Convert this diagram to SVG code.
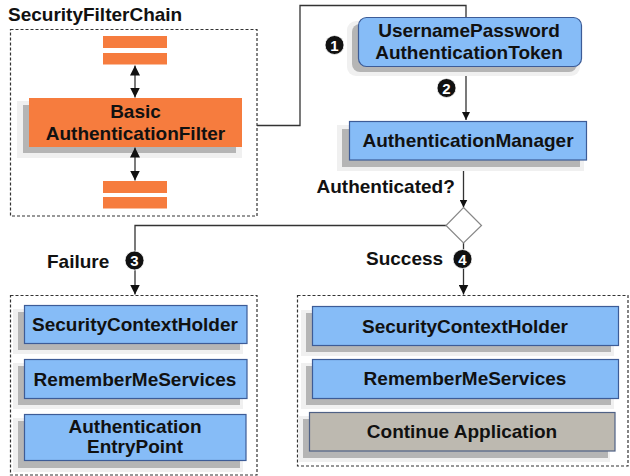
<svg xmlns="http://www.w3.org/2000/svg" width="630" height="476" viewBox="0 0 630 476">
<defs>
<style>
text{font-family:"Liberation Sans",Arial,sans-serif;font-weight:bold;fill:#111;}
.t{font-size:19px;text-anchor:middle;}
.lbl{font-size:19px;}
.dash{fill:none;stroke:#333;stroke-width:1.2;stroke-dasharray:3,2;}
.halo{fill:#f0f0f0;}
.shd{fill:#b5b5b5;}
.blue{fill:#86bcf7;stroke:#3d5c97;stroke-width:1.2;}
.gray{fill:#bdb9b0;stroke:#4f6185;stroke-width:1.2;}
.orange{fill:#f67c3e;}
.line{fill:none;stroke:#333;stroke-width:1.3;}
.badge circle{fill:#111;stroke:#fff;stroke-width:0.8;}
.badge text{font-size:15px;fill:#fff;text-anchor:middle;}
</style>
<marker id="ah" viewBox="0 0 10 10" refX="10" refY="5" markerWidth="8" markerHeight="8" markerUnits="userSpaceOnUse" orient="auto-start-reverse">
<path d="M0,0 L10,5 L0,10 z" fill="#111"/>
</marker>
<marker id="ahd" viewBox="0 0 10 10" refX="10" refY="5" markerWidth="10" markerHeight="10" markerUnits="userSpaceOnUse" orient="auto-start-reverse">
<path d="M0,0 L10,5 L0,10 z" fill="#111"/>
</marker>
</defs>
<rect width="630" height="476" fill="#fff"/>

<g id="securityFilterChain">
<text class="lbl" x="8" y="21">SecurityFilterChain</text>
<rect class="dash" x="10.5" y="29.5" width="246.5" height="186.5"/>
<rect class="orange" x="103" y="36" width="64" height="12"/>
<rect class="orange" x="103" y="53" width="64" height="11.5"/>
<rect class="orange" x="103" y="181" width="64" height="12"/>
<rect class="orange" x="103" y="197" width="64" height="11.5"/>
</g>

<g id="basicAuthenticationFilter">
<rect class="halo" x="17" y="101" width="225" height="57"/>
<rect class="shd" x="23" y="105" width="213" height="48"/>
<rect class="orange" x="29" y="98" width="213" height="49"/>
<text class="t" x="135.5" y="118">Basic</text>
<text class="t" x="135.5" y="140">AuthenticationFilter</text>
</g>

<g id="connectors">
<line class="line" x1="135" y1="65.5" x2="135" y2="97.5" marker-start="url(#ahd)" marker-end="url(#ahd)"/>
<line class="line" x1="135" y1="147.5" x2="135" y2="180.5" marker-start="url(#ahd)" marker-end="url(#ahd)"/>
<polyline class="line" points="257,125.5 300,125.5 300,5.5 466,5.5 466,120" marker-end="url(#ah)"/>
<line class="line" x1="463.5" y1="160" x2="463.5" y2="207.5" marker-end="url(#ah)"/>
<polyline class="line" points="446,225.5 135,225.5 135,294.5" marker-end="url(#ahd)"/>
<line class="line" x1="463.5" y1="243" x2="463.5" y2="294.5" marker-end="url(#ahd)"/>
</g>

<g id="usernamePasswordAuthenticationToken">
<rect class="halo" x="347" y="21" width="233" height="55" rx="9"/>
<rect class="shd" x="352" y="24" width="225" height="48" rx="8"/>
<rect class="blue" x="358.5" y="17.5" width="223" height="49" rx="8"/>
<text class="t" x="469" y="37">UsernamePassword</text>
<text class="t" x="469" y="59">AuthenticationToken</text>
</g>

<g id="authenticationManager">
<rect class="halo" x="337" y="125" width="247" height="46"/>
<rect class="shd" x="342" y="129" width="238" height="38"/>
<rect class="blue" x="349.5" y="121.5" width="237" height="38.5"/>
<text class="t" x="468" y="147">AuthenticationManager</text>
</g>

<g id="decision">
<polygon points="463.5,207.5 481.5,225.5 463.5,243 446,225.5" fill="#fff" stroke="#888" stroke-width="1.2"/>
<text class="lbl" x="316.5" y="193">Authenticated?</text>
</g>

<g id="badge1" class="badge"><circle cx="334.5" cy="45" r="9.5"/><text x="334.5" y="50.5">1</text></g>
<g id="badge2" class="badge"><circle cx="446.5" cy="88" r="9.5"/><text x="446.5" y="93.5">2</text></g>
<g id="badge3" class="badge"><circle cx="134.5" cy="260.5" r="9.5"/><text x="134.5" y="266">3</text></g>
<g id="badge4" class="badge"><circle cx="462.5" cy="259" r="9.5"/><text x="462.5" y="264.5">4</text></g>

<g id="failureLabel"><text class="lbl" x="47" y="268">Failure</text></g>
<g id="successLabel"><text class="lbl" x="366" y="265">Success</text></g>

<g id="failureGroup">
<rect class="dash" x="10.5" y="295.5" width="246.5" height="179.5"/>
</g>
<g id="failureSecurityContextHolder">
<rect class="halo" x="13" y="309" width="230" height="45"/>
<rect class="shd" x="18" y="312" width="222" height="38"/>
<rect class="blue" x="24.5" y="305.5" width="222.5" height="38"/>
<text class="t" x="135" y="331">SecurityContextHolder</text>
</g>
<g id="failureRememberMeServices">
<rect class="halo" x="13" y="363" width="230" height="46"/>
<rect class="shd" x="18" y="366" width="222" height="39"/>
<rect class="blue" x="24.5" y="359.5" width="222.5" height="39"/>
<text class="t" x="135" y="386">RememberMeServices</text>
</g>
<g id="authenticationEntryPoint">
<rect class="halo" x="13" y="418" width="230" height="54"/>
<rect class="shd" x="18" y="421" width="222" height="47"/>
<rect class="blue" x="24.5" y="414.5" width="221.5" height="46"/>
<text class="t" x="135" y="433">Authentication</text>
<text class="t" x="135" y="453">EntryPoint</text>
</g>

<g id="successGroup">
<rect class="dash" x="297.5" y="295.5" width="330.5" height="170.5"/>
</g>
<g id="successSecurityContextHolder">
<rect class="halo" x="301" y="310" width="313" height="46"/>
<rect class="shd" x="306" y="313" width="305" height="39"/>
<rect class="blue" x="312.5" y="306.5" width="306" height="39"/>
<text class="t" x="465" y="333">SecurityContextHolder</text>
</g>
<g id="successRememberMeServices">
<rect class="halo" x="301" y="363" width="313" height="46"/>
<rect class="shd" x="306" y="366" width="305" height="39"/>
<rect class="blue" x="312.5" y="359.5" width="306" height="39"/>
<text class="t" x="465" y="385">RememberMeServices</text>
</g>
<g id="continueApplication">
<rect class="halo" x="298" y="416" width="312" height="46"/>
<rect class="shd" x="303" y="419" width="305" height="39"/>
<rect class="gray" x="309.5" y="412.5" width="305.5" height="38.5"/>
<text class="t" x="462" y="438">Continue Application</text>
</g>
</svg>
